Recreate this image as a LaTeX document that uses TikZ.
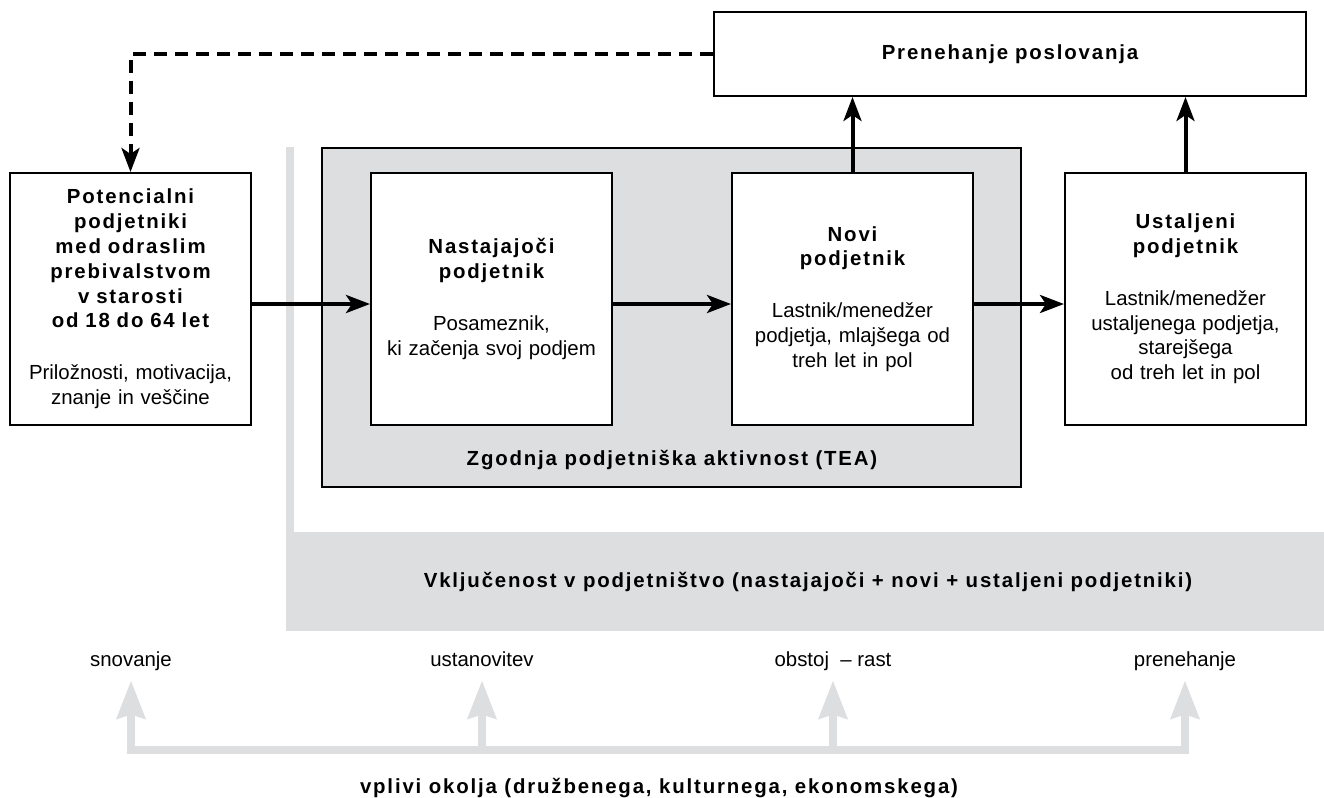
\documentclass[tikz,border=0pt]{standalone}
\usepackage{fontspec}
\setmainfont{Liberation Sans}
\newfontfamily\trackfont{Liberation Sans}[LetterSpace=9]
\newcommand{\bfx}{\trackfont\bfseries}
\usetikzlibrary{arrows.meta}
\definecolor{lightgrey}{RGB}{221,222,224}

\begin{document}
\begin{tikzpicture}[x=0.5pt,y=-0.5pt,
    font=\fontsize{10.2}{12.4}\selectfont,
    box/.style={draw,line width=1pt,fill=white,minimum width=120.5pt,minimum height=126pt,
      text width=118pt,align=center,inner sep=0pt},
    flow/.style={line width=2pt,-{Stealth[length=12pt,width=9pt,inset=3pt]}},
    envarrow/.style={draw=lightgrey,line width=4pt,shorten >=4.5pt,
      -{Stealth[length=19pt,width=14pt,inset=2pt]}},
    stage/.style={text height=7.5pt,text depth=2.5pt,inner sep=0pt}]
    \useasboundingbox (0,0) rectangle (1324,798);

    \fill[lightgrey] (286,147) rectangle (294,532);
    \fill[lightgrey] (286,532) rectangle (1324,631);
    \node (incl) at (808,582) {\bfx Vključenost v podjetništvo (nastajajoči + novi + ustaljeni podjetniki)};

    \node[draw,line width=0.7pt,fill=lightgrey,minimum width=349.5pt,minimum height=169.5pt,inner sep=0pt] (tea) at (671.5,317.5) {};
    \node (tealabel) at (672,460) {\bfx Zgodnja podjetniška aktivnost (TEA)};

    \node[box] (pot) at (130.5,299) {{\bfx Potencialni\\podjetniki\\med odraslim\\prebivalstvom\\v starosti\\od 18 do 64 let}\\[13.5pt]
      Priložnosti, motivacija,\\znanje in veščine};
    \node[box] (nast) at (491.5,299) {{\bfx Nastajajoči\\podjetnik}\\[13.5pt]Posameznik,\\ki začenja svoj podjem};
    \node[box] (novi) at (852.5,299) {{\bfx Novi\\podjetnik}\\[13.5pt]Lastnik/menedžer\\podjetja, mlajšega od\\treh let in pol};
    \node[box] (ust) at (1185.5,299) {{\bfx Ustaljeni\\podjetnik}\\[13.5pt]Lastnik/menedžer\\ustaljenega podjetja,\\starejšega\\od treh let in pol};
    \node[box,minimum width=296pt,minimum height=42pt,text width=290pt] (stop) at (1010,54) {\bfx Prenehanje poslovanja};

    \draw[flow] ([yshift=-2.5pt]pot.east) -- ([yshift=-2.5pt]nast.west);
    \draw[flow] ([yshift=-2.5pt]nast.east) -- ([yshift=-2.5pt]novi.west);
    \draw[flow] ([yshift=-2.5pt]novi.east) -- ([yshift=-2.5pt]ust.west);
    \draw[flow] (novi.north) -- (novi.north |- stop.south);
    \draw[flow] (ust.north) -- (ust.north |- stop.south);
    \draw[flow,dash pattern=on 6.5pt off 4pt] (stop.west) -| (pot.north);

    \node[stage] (snov) at (131,661) {snovanje};
    \node[stage] (ustan) at (482,661) {ustanovitev};
    \node[stage] (obst) at (833,661) {obstoj\ \ – rast};
    \node[stage] (pren) at (1185,661) {prenehanje};

    \coordinate (e1) at (131,750);
    \coordinate (e2) at (482,750);
    \coordinate (e3) at (833,750);
    \coordinate (e4) at (1185,750);
    \draw[lightgrey,line width=4pt,line cap=rect] (e1) -- (e4);
    \foreach \c/\n in {e1/snov,e2/ustan,e3/obst,e4/pren}
      \draw[envarrow] (\c) -- (\n.south);

    \node (env) at (659,788) {\bfx vplivi okolja (družbenega, kulturnega, ekonomskega)};
\end{tikzpicture}
\end{document}
